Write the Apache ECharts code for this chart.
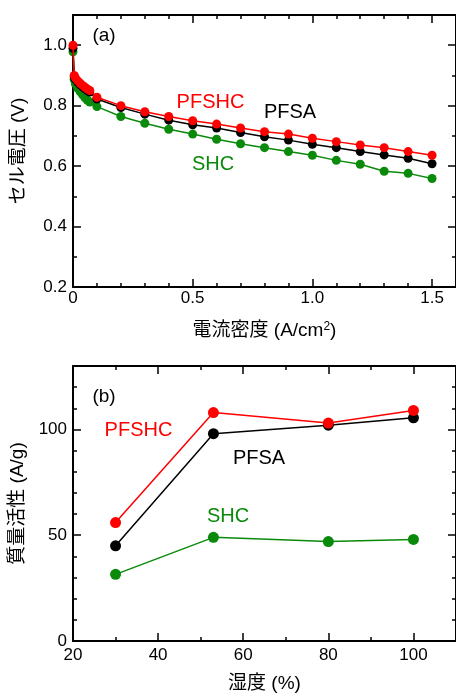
<!DOCTYPE html>
<html>
<head>
<meta charset="utf-8">
<script src="https://cdn.jsdelivr.net/npm/echarts@6/dist/echarts.min.js"></script>
<style>
html,body{margin:0;padding:0;background:#fff;}
#c{width:456px;height:696px;}
</style>
</head>
<body>
<div id="c"></div>
<script>
// ---- Data: panel (a) polarization curves ----
const currentDensity = [0, 0.005, 0.01, 0.02, 0.03, 0.04, 0.05, 0.06, 0.07, 0.1, 0.2, 0.3, 0.4, 0.5, 0.6, 0.7, 0.8, 0.9, 1.0, 1.1, 1.2, 1.3, 1.4, 1.5];
const voltPFSHC = [1.0, 0.900, 0.892, 0.882, 0.874, 0.867, 0.861, 0.855, 0.850, 0.828, 0.800, 0.780, 0.764, 0.750, 0.739, 0.726, 0.714, 0.706, 0.692, 0.681, 0.670, 0.661, 0.648, 0.636];
const voltPFSA  = [0.99, 0.895, 0.887, 0.877, 0.869, 0.862, 0.856, 0.850, 0.845, 0.822, 0.794, 0.772, 0.752, 0.737, 0.726, 0.711, 0.697, 0.686, 0.672, 0.661, 0.648, 0.637, 0.626, 0.608];
const voltSHC   = [0.978, 0.886, 0.872, 0.857, 0.846, 0.836, 0.826, 0.818, 0.812, 0.797, 0.764, 0.742, 0.722, 0.706, 0.689, 0.674, 0.661, 0.648, 0.636, 0.619, 0.606, 0.583, 0.576, 0.559];

// ---- Data: panel (b) mass activity vs humidity ----
const humidity = [30, 53, 80, 100];
const maPFSHC = [56, 108, 103, 109];
const maPFSA  = [45, 98, 102, 105.5];
const maSHC   = [31.5, 49, 47, 48];

// ---- Labels ----
const seriesNames = ['PFSHC', 'PFSA', 'SHC'];
const panelLabels = ['(a)', '(b)'];
const xTitleA = '電流密度 (A/cm{sup|2})';
const yTitleA = 'セル電圧 (V)';
const xTitleB = '湿度 (%)';
const yTitleB = '質量活性 (A/g)';

const RED = '#ff0000', BLACK = '#000000', GREEN = '#0a8a0a';
const FONT = '"Liberation Sans", Arial, "Noto Sans CJK JP", sans-serif';
const JFONT = '"Liberation Sans", "Noto Sans CJK JP", sans-serif';

const pairs = (xs, ys) => xs.map((x, i) => [x, ys[i]]);

const chart = echarts.init(document.getElementById('c'), null, {renderer: 'canvas'});

const lineStyle = {color: '#000', width: 2};

function makeX(grid, pos, min, max, major, minor, opts) {
  const fmt = opts.fmt;
  const base = {
    type: 'value', gridIndex: grid, position: pos, min: min, max: max,
    splitLine: {show: false}
  };
  const majorAx = Object.assign({}, base, {
    interval: major,
    axisLine: {show: true, onZero: false, lineStyle: lineStyle},
    axisTick: {show: true, inside: true, length: 8, lineStyle: {width: 1.5, color: '#000'}},
    axisLabel: {show: !!opts.labels, showMaxLabel: false, margin: opts.margin || 4, color: '#000', fontSize: 17, fontFamily: FONT, formatter: fmt},
  });
  if (opts.name) {
    majorAx.name = opts.name;
    majorAx.nameLocation = 'middle';
    majorAx.nameGap = opts.nameGap;
    majorAx.nameTextStyle = {color: '#000', fontSize: 19, fontFamily: JFONT, rich: {sup: {fontSize: 12, verticalAlign: 'top', padding: [0, 0, 8, 0], fontFamily: FONT}}};
  }
  const minorAx = Object.assign({}, base, {
    interval: minor,
    axisLine: {show: false, onZero: false},
    axisTick: {show: true, inside: true, length: 4, lineStyle: {width: 1.5, color: '#000'}},
    axisLabel: {show: false}
  });
  return [majorAx, minorAx];
}

const fmtA = v => (Math.abs(v) < 1e-9 ? '0' : v.toFixed(1));
const fmtInt = v => String(Math.round(v));

const xAxes = [
  // grid 0 (a)
  ...makeX(0, 'bottom', 0, 1.6, 0.5, 0.1, {labels: true, fmt: fmtA, margin: 3, name: xTitleA, nameGap: 34}),
  ...makeX(0, 'top', 0, 1.6, 0.5, 0.1, {}),
  // grid 1 (b)
  ...makeX(1, 'bottom', 20, 110, 20, 10, {labels: true, fmt: fmtInt, margin: 6, name: xTitleB, nameGap: 33}),
  ...makeX(1, 'top', 20, 110, 20, 10, {})
];

const yAxes = [
  ...makeX(0, 'left', 0.2, 1.1, 0.2, 0.1, {labels: true, fmt: v => v.toFixed(1), margin: 6, name: yTitleA, nameGap: 45}),
  ...makeX(0, 'right', 0.2, 1.1, 0.2, 0.1, {}),
  ...makeX(1, 'left', 0, 130, 50, 10, {labels: true, fmt: fmtInt, margin: 6, name: yTitleB, nameGap: 38}),
  ...makeX(1, 'right', 0, 130, 50, 10, {})
];
yAxes.forEach(a => { if (a.name) a.nameRotate = 90; });

function line(name, data, color, xi, yi, size, z) {
  return {
    type: 'line', name: name, data: data, xAxisIndex: xi, yAxisIndex: yi,
    symbol: 'circle', symbolSize: size, showSymbol: true,
    lineStyle: {color: color, width: 1.5},
    itemStyle: {color: color},
    z: z, animation: false, silent: true
  };
}

const option = {
  animation: false,
  backgroundColor: '#fff',
  grid: [
    {left: 73, top: 15, width: 384, height: 272, containLabel: false},
    {left: 73, top: 366, width: 383.5, height: 275, containLabel: false}
  ],
  xAxis: xAxes,
  yAxis: yAxes,
  series: [
    line(seriesNames[2], pairs(currentDensity, voltSHC), GREEN, 0, 0, 9, 2),
    line(seriesNames[1], pairs(currentDensity, voltPFSA), BLACK, 0, 0, 9, 3),
    line(seriesNames[0], pairs(currentDensity, voltPFSHC), RED, 0, 0, 9, 4),
    line(seriesNames[2], pairs(humidity, maSHC), GREEN, 4, 4, 11, 2),
    line(seriesNames[1], pairs(humidity, maPFSA), BLACK, 4, 4, 11, 3),
    line(seriesNames[0], pairs(humidity, maPFSHC), RED, 4, 4, 11, 4)
  ],
  graphic: [
    {type: 'text', x: 104, y: 36, style: {text: panelLabels[0], fill: '#000', font: '19px ' + FONT, align: 'center', verticalAlign: 'middle'}},
    {type: 'text', x: 210.5, y: 102.5, style: {text: seriesNames[0], fill: RED, font: '20px ' + FONT, align: 'center', verticalAlign: 'middle'}},
    {type: 'text', x: 290, y: 112, style: {text: seriesNames[1], fill: BLACK, font: '20px ' + FONT, align: 'center', verticalAlign: 'middle'}},
    {type: 'text', x: 213, y: 164.5, style: {text: seriesNames[2], fill: GREEN, font: '20px ' + FONT, align: 'center', verticalAlign: 'middle'}},
    {type: 'text', x: 104, y: 397, style: {text: panelLabels[1], fill: '#000', font: '19px ' + FONT, align: 'center', verticalAlign: 'middle'}},
    {type: 'text', x: 138.5, y: 430, style: {text: seriesNames[0], fill: RED, font: '20px ' + FONT, align: 'center', verticalAlign: 'middle'}},
    {type: 'text', x: 259, y: 458, style: {text: seriesNames[1], fill: BLACK, font: '20px ' + FONT, align: 'center', verticalAlign: 'middle'}},
    {type: 'text', x: 228, y: 516, style: {text: seriesNames[2], fill: GREEN, font: '20px ' + FONT, align: 'center', verticalAlign: 'middle'}}
  ]
};
chart.setOption(option);
</script>
</body>
</html>
